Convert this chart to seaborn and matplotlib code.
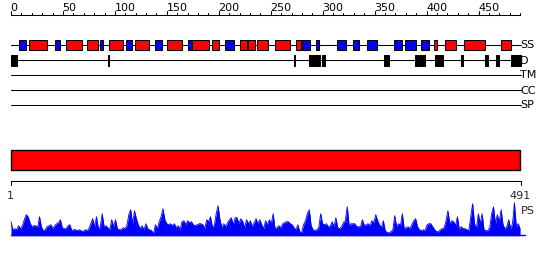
import numpy as np
import matplotlib
matplotlib.use("Agg")
import matplotlib.pyplot as plt
from matplotlib.patches import Rectangle
import seaborn as sns
import pandas as pd

sns.set_style("white")
plt.rcParams['font.family'] = ['DejaVu Sans']

# ---------------- data ----------------
seq_len = 491
track_labels = ["SS", "D", "TM", "CC", "SP"]

# secondary structure elements (start, end) in residues
helix_starts = [17, 53, 73, 94, 119, 150, 174, 193, 220, 228, 237, 254, 274, 407, 418, 436, 472]
helix_ends   = [35, 68, 84, 108, 133, 165, 191, 200, 227, 235, 247, 269, 279, 410, 428, 456, 481]
strand_starts = [8, 42, 86, 111, 139, 170, 206, 280, 294, 314, 329, 343, 369, 379, 395]
strand_ends   = [14, 47, 89, 116, 145, 174, 215, 288, 296, 322, 335, 352, 376, 390, 402]

# disorder segments
dis_starts = [0, 93, 272, 287, 299, 359, 389, 408, 433, 456, 467, 481]
dis_ends   = [6, 94.5, 273.5, 297, 302, 364, 398, 416, 435, 459, 470, 491]

# profile (PS) values read along the sequence
ps = [14, 6, 7, 6, 10, 7, 10, 16, 21, 19, 13, 9, 10, 10, 8, 19, 9, 5, 6, 9, 10, 11,
      7, 10, 12, 13, 16, 8, 7, 7, 10, 11, 5, 6, 6, 5, 6, 5, 4, 6, 5, 7, 12, 17,
      9, 19, 7, 9, 22, 9, 10, 8, 6, 16, 9, 16, 7, 6, 6, 8, 7, 10, 21, 26, 12, 25,
      17, 11, 7, 10, 6, 12, 7, 6, 5, 2, 11, 7, 14, 19, 27, 16, 12, 11, 12, 10, 12, 8, 10,
      6, 14, 15, 11, 15, 13, 14, 11, 10, 11, 12, 12, 11, 7, 16, 14, 19, 9, 10, 22, 30,
      16, 8, 12, 9, 13, 16, 18, 11, 18, 18, 12, 17, 14, 8, 16, 12, 15, 9, 13, 17, 12,
      16, 11, 7, 15,
      11, 16, 12, 22, 7, 8, 10, 8, 12, 13, 14, 14, 12, 11, 8, 6, 11, 4, 3, 11, 15, 22,
      26, 10, 6, 5, 6, 8, 22, 12, 11, 12, 9, 9, 14, 9, 18, 8, 7, 9, 13, 15, 29, 10, 12,
      12, 12, 9, 9, 9, 16, 10, 11, 12, 10, 15, 13, 21, 15, 11, 8, 15, 5, 3, 3, 4, 6, 20,
      9, 12, 10, 22, 7, 8, 9, 7, 11, 15, 17, 9, 6, 5, 6, 5, 11, 12, 12, 9, 6, 4,
      4, 6, 7, 8, 15, 25, 12, 15, 14, 10, 19, 6, 9, 7, 7, 6, 5, 19, 32, 12, 7, 22, 12,
      22, 6, 5, 5, 8, 22, 29, 12, 21, 14, 26, 11, 7, 9, 16, 7, 12, 33, 9, 12, 7]

major_ticks = list(range(0, 451, 50))
minor_ticks = list(range(0, 491, 10))

# ---------------- layout helpers ----------------
PX_PER_RES = 1.039
X_OFF = 11.0
def px2res(px):
    return (px - X_OFF) / PX_PER_RES

fig = plt.figure(figsize=(5.5, 2.6), dpi=100)
ax = fig.add_axes([0, 0, 1, 1])
ax.set_xlim(px2res(0), px2res(550))
ax.set_ylim(260, 0)
ax.axis("off")

lw = 0.75
fs = 8

# ruler
ax.plot([0, 490], [15, 15], color="black", lw=lw)
for t in minor_ticks:
    top = 11.0 if t in major_ticks else 12.8
    ax.plot([t, t], [15, top], color="black", lw=lw)
for t in major_ticks:
    ax.text(t - 0.5, 11.2, str(t), fontsize=fs, ha="left", va="baseline", color="black")

# track lines
track_y = [45, 60, 75, 90, 105]
for lab, y in zip(track_labels, track_y):
    ax.plot([0, seq_len], [y, y], color="black", lw=lw, zorder=1)
    ax.text(px2res(520), y + 0.5, lab, fontsize=fs, ha="left", va="center", color="black")

# SS boxes
for s, e in zip(helix_starts, helix_ends):
    ax.add_patch(Rectangle((s, 40), e - s, 10, facecolor="#ff0000", edgecolor="black", lw=lw, zorder=2))
for s, e in zip(strand_starts, strand_ends):
    ax.add_patch(Rectangle((s, 40), e - s, 10, facecolor="#0000ff", edgecolor="black", lw=lw, zorder=2))

# disorder boxes
for s, e in zip(dis_starts, dis_ends):
    ax.add_patch(Rectangle((s, 55), e - s, 10.5, facecolor="black", edgecolor="black", lw=lw, zorder=2))

# full-length red bar
ax.add_patch(Rectangle((px2res(10.5), 150), px2res(520) - px2res(10.5), 20,
                       facecolor="#ff0000", edgecolor="black", lw=1.0, zorder=2))

# bracket
x1, x2 = px2res(10.5), px2res(520.5)
ax.plot([x1, x1, x2, x2], [185, 180.7, 180.7, 185], color="black", lw=lw)
ax.text(x1, 191, "1", fontsize=fs, ha="center", va="top")
ax.text(x2, 191, str(seq_len), fontsize=fs, ha="center", va="top")
ax.text(px2res(521), 210.5, "PS", fontsize=fs, ha="left", va="center")

# profile
base = 235.7
xs = np.linspace(0, seq_len - 1, len(ps))
df = pd.DataFrame({"res": xs, "y": base - np.array(ps, dtype=float)})
ax.fill_between(df["res"], base, df["y"], color="#0000ff", lw=0, zorder=2)
sns.lineplot(data=df, x="res", y="y", ax=ax, color="#0000ff", lw=0.6, zorder=3)
ax.plot([0, px2res(525)], [base - 0.3, base - 0.3], color="#0000ff", lw=1.0)

ax.set_xlim(px2res(0), px2res(550))
ax.set_ylim(260, 0)
ax.axis("off")
fig.savefig("out.png", dpi=100)
